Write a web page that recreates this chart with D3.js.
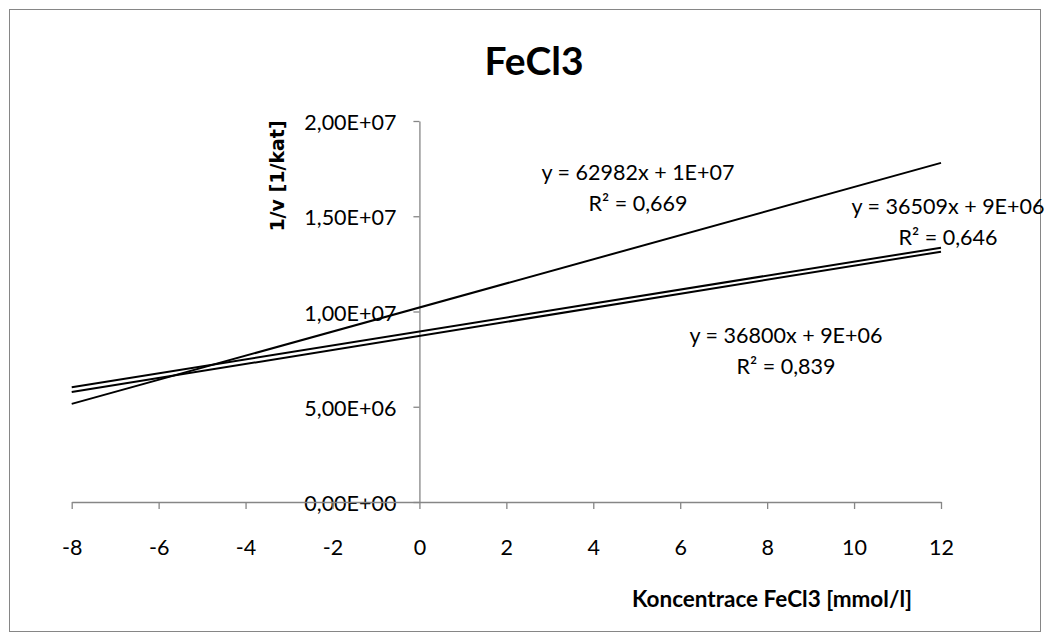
<!DOCTYPE html>
<html>
<head>
<meta charset="utf-8">
<script src="https://cdn.jsdelivr.net/npm/d3@7"></script>
<style>
  html, body { margin: 0; padding: 0; background: #fff; }
  svg { display: block; }
</style>
</head>
<body>
<svg id="chart" width="1049" height="640"></svg>
<script>
// Axis settings
const xDomain = [-8, 12];
const xTicks = [-8, -6, -4, -2, 0, 2, 4, 6, 8, 10, 12];
const yDomain = [0, 2e7];
const yTicks = [0, 5e6, 1e7, 1.5e7, 2e7];

// Trendlines: value at x = -8 and at x = 12
const trendNames = ["t1", "t2", "t3"];
const trendStart = [5.15e6, 6.02e6, 5.77e6];
const trendEnd = [1.78e7, 1.335e7, 1.314e7];

// Trendline equation labels
const eqText = ["y = 62982x + 1E+07", "y = 36509x + 9E+06", "y = 36800x + 9E+06"];
const r2Text = ["R² = 0,669", "R² = 0,646", "R² = 0,839"];
const eqAnchor = [[638, 180], [948, 214], [786, 343]];

const svg = d3.select("#chart");
const font = "Lato, 'Open Sans', sans-serif";

// chart frame
svg.append("rect")
  .attr("x", 9.5).attr("y", 9.5)
  .attr("width", 1031).attr("height", 622)
  .attr("fill", "#fff").attr("stroke", "#868686").attr("stroke-width", 1);

const x = d3.scaleLinear().domain(xDomain).range([71.7, 941]);
const y = d3.scaleLinear().domain(yDomain).range([502, 121]);

// title
svg.append("text")
  .attr("x", 534).attr("y", 75)
  .attr("text-anchor", "middle")
  .attr("font-family", font).attr("font-weight", "bold")
  .attr("font-size", 39).attr("fill", "#000")
  .text("FeCl3");

// y tick label format: 1,50E+07
function sci(v) {
  const s = v.toExponential(2).split("e");
  const m = s[0].replace(".", ",");
  const e = parseInt(s[1], 10);
  const sign = e < 0 ? "-" : "+";
  return m + "E" + sign + String(Math.abs(e)).padStart(2, "0");
}

// y axis at x = 0
const yAxis = svg.append("g")
  .attr("transform", `translate(${x(0)},0)`)
  .call(d3.axisLeft(y).tickValues(yTicks).tickFormat(sci)
    .tickSizeInner(6).tickSizeOuter(0).tickPadding(17));

// x axis at y = 0
const xAxis = svg.append("g")
  .attr("transform", `translate(0,${y(0)})`)
  .call(d3.axisBottom(x).tickValues(xTicks).tickFormat(d => String(d))
    .tickSizeInner(7).tickSizeOuter(0).tickPadding(10));

[yAxis, xAxis].forEach(g => {
  g.select(".domain").attr("stroke", "#868686").attr("stroke-width", 1.3);
  g.selectAll(".tick line").attr("stroke", "#868686").attr("stroke-width", 1.3);
  g.selectAll(".tick text")
    .attr("font-family", font).attr("font-size", 21.5).attr("fill", "#000");
});
yAxis.selectAll(".tick text").attr("dy", "0.4em");
xAxis.selectAll(".tick text").attr("y", 53).attr("dy", null);

// axis titles
svg.append("text")
  .attr("x", 772).attr("y", 607)
  .attr("text-anchor", "middle")
  .attr("font-family", font).attr("font-weight", "bold")
  .attr("font-size", 22.5).attr("fill", "#000")
  .text("Koncentrace FeCl3 [mmol/l]");

svg.append("text")
  .attr("transform", "translate(284,176) rotate(-90)")
  .attr("text-anchor", "middle")
  .attr("font-family", "'DejaVu Sans', sans-serif").attr("font-weight", "bold")
  .attr("font-size", 19).attr("fill", "#000")
  .text("1/v [1/kat]");

// trendlines
const line = d3.line().x(d => x(d[0])).y(d => y(d[1]));
svg.append("g").selectAll("path")
  .data(trendNames.map((n, i) => [[xDomain[0], trendStart[i]], [xDomain[1], trendEnd[i]]]))
  .join("path")
  .attr("d", line)
  .attr("fill", "none").attr("stroke", "#000").attr("stroke-width", 2);

// equation labels
const labels = svg.append("g")
  .attr("font-family", font).attr("font-size", 21.5).attr("fill", "#000")
  .attr("text-anchor", "middle");
eqText.forEach((t, i) => {
  labels.append("text").attr("x", eqAnchor[i][0]).attr("y", eqAnchor[i][1]).text(t);
  labels.append("text").attr("x", eqAnchor[i][0]).attr("y", eqAnchor[i][1] + 31).text(r2Text[i]);
});
</script>
</body>
</html>
